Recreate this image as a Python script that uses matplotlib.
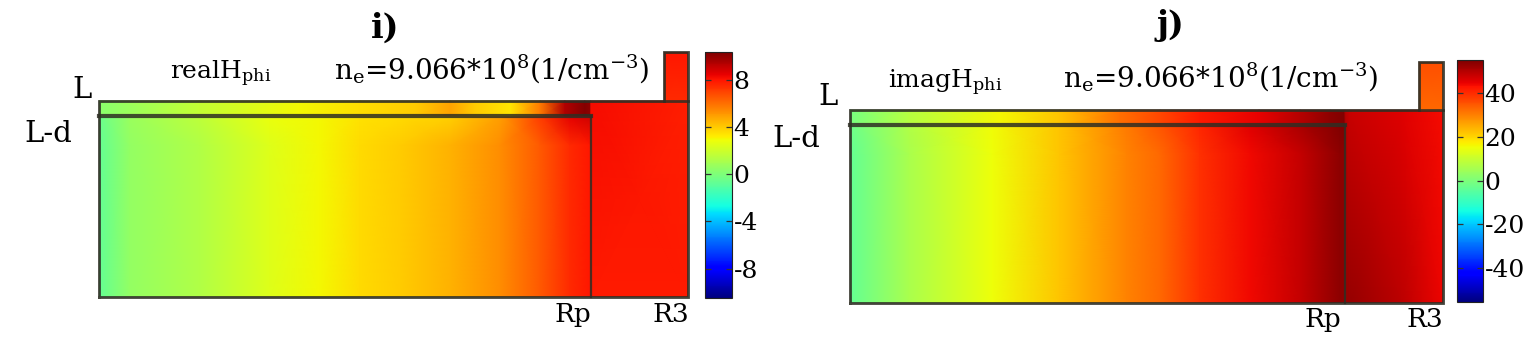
import numpy as np
import matplotlib
matplotlib.use("Agg")
import matplotlib.pyplot as plt
from matplotlib.colors import Normalize
from matplotlib.cm import ScalarMappable

plt.rcParams["font.family"] = ["DejaVu Serif"]
plt.rcParams["mathtext.fontset"] = "dejavuserif"
plt.rcParams["axes.unicode_minus"] = False

# ---------------- geometry (normalised r / z of the domain) ----------------
R3 = 1.0
R_P = 0.835          # Rp
R_PROT = 0.96        # left edge of the small top-right protrusion
Z_LD = 0.739         # L-d
Z_L = 0.80           # L
Z_TOP = 1.0
Z_MID = 0.62

# ---------------- panel i : real H_phi ----------------
i_main_r = [0, 0.053, 0.171, 0.29, 0.375, 0.443, 0.511, 0.596, 0.681, 0.749, 0.80, 0.835]
i_main_low = [-0.7, 0.6, 1.3, 2.4, 3.0, 3.7, 4.0, 4.55, 5.4, 6.5, 7.6, 8.0]
i_main_high = [-0.5, 0.7, 1.6, 2.8, 3.0, 3.5, 3.7, 3.9, 5.0, 7.2, 8.6, 9.0]
i_layer_r = [0, 0.171, 0.341, 0.443, 0.537, 0.596, 0.638, 0.698, 0.749, 0.791, 0.825, 0.835]
i_layer = [0.3, 1.8, 3.0, 3.6, 4.0, 4.9, 4.0, 3.4, 5.8, 9.5, 10.3, 10.0]
i_right_r = [0.835, 1.0]
i_right_low = [7.9, 7.9]
i_right_high = [8.2, 7.8]
i_prot = [7.6, 8.0]
i_range = (-10.5, 10.4)
i_ticks = [-8, -4, 0, 4, 8]

# ---------------- panel j : imag H_phi ----------------
j_main_r = [0, 0.10, 0.24, 0.354, 0.467, 0.523, 0.59, 0.675, 0.76, 0.826, 0.835]
j_main_low = [-3.5, 6.2, 15.4, 22.0, 30.0, 33.0, 39.3, 44.2, 48.6, 54.0, 54.0]
j_main_high = [-2.0, 7.0, 15.5, 22.0, 31.0, 35.0, 41.0, 46.0, 51.0, 55.0, 55.0]
j_layer_r = [0, 0.10, 0.253, 0.354, 0.455, 0.523, 0.59, 0.69, 0.759, 0.81, 0.835]
j_layer = [-1.0, 8.0, 16.0, 22.0, 32.0, 37.0, 42.0, 45.0, 50.0, 54.0, 55.0]
j_right_r = [0.835, 0.843, 0.93, 1.0]
j_right_low = [53.0, 53.0, 49.3, 44.8]
j_right_high = [50.0, 48.0, 46.0, 44.0]
j_prot = [33.0, 36.0]
j_range = (-55.6, 55.3)
j_ticks = [-40, -20, 0, 20, 40]

CMAP = plt.get_cmap("jet")
EDGE = "#2e2e24"

W, H = 1538, 355
fig = plt.figure(figsize=(W / 100, H / 100), dpi=100)


def rect(x0, y0, x1, y1):
    return [x0 / W, 1 - y1 / H, (x1 - x0) / W, (y1 - y0) / H]


def block(ax, r, z, rows, norm):
    X, Z = np.meshgrid(np.asarray(r, float), np.asarray(z, float))
    ax.pcolormesh(X, Z, np.asarray(rows, float), shading="gouraud",
                  cmap=CMAP, norm=norm)


def panel(box, cbox, d, vrange, ticks):
    ax = fig.add_axes(rect(*box))
    ax.set_xlim(0, R3)
    ax.set_ylim(0, Z_TOP)
    ax.axis("off")
    norm = Normalize(*vrange)
    block(ax, d["main_r"], [0, Z_MID, Z_LD],
          [d["main_low"], d["main_low"], d["main_high"]], norm)
    block(ax, d["layer_r"], [Z_LD, Z_L], [d["layer"], d["layer"]], norm)
    block(ax, d["right_r"], [0, Z_L], [d["right_low"], d["right_high"]], norm)
    block(ax, [R_PROT, R3], [Z_L, Z_TOP],
          [[d["prot"][0]] * 2, [d["prot"][1]] * 2], norm)
    # outlines
    ox = [0, R3, R3, R_PROT, R_PROT, 0, 0]
    oy = [0, 0, Z_TOP, Z_TOP, Z_L, Z_L, 0]
    ax.plot(ox, oy, color=EDGE, lw=2.0, alpha=0.9, clip_on=False,
            solid_joinstyle="miter")
    ax.plot([0, R_P], [Z_LD, Z_LD], color=EDGE, lw=3.0, alpha=0.85, clip_on=False)
    ax.plot([R_P, R_P], [0, Z_LD], color=EDGE, lw=1.6, alpha=0.85, clip_on=False)
    ax.plot([R_PROT, R3], [Z_L, Z_L], color=EDGE, lw=2.0, alpha=0.85, clip_on=False)

    cax = fig.add_axes(rect(*cbox))
    cb = fig.colorbar(ScalarMappable(norm=norm, cmap=CMAP), cax=cax, ticks=ticks)
    cb.outline.set_linewidth(0.8)
    cb.outline.set_edgecolor("#222222")
    cax.tick_params(direction="in", length=4, width=0.9, left=True, right=True,
                    labelsize=18, pad=1, color="#333333")
    cb.set_ticklabels([str(t) for t in ticks])
    return ax


panel((99, 52, 688, 297), (705, 52, 732, 298),
      dict(main_r=i_main_r, main_low=i_main_low, main_high=i_main_high,
           layer_r=i_layer_r, layer=i_layer, right_r=i_right_r,
           right_low=i_right_low, right_high=i_right_high, prot=i_prot),
      i_range, i_ticks)
panel((850, 62, 1443, 303), (1457, 60, 1483, 302),
      dict(main_r=j_main_r, main_low=j_main_low, main_high=j_main_high,
           layer_r=j_layer_r, layer=j_layer, right_r=j_right_r,
           right_low=j_right_low, right_high=j_right_high, prot=j_prot),
      j_range, j_ticks)


def txt(x, y, s, size, ha="left", va="baseline", weight="normal"):
    fig.text(x / W, 1 - y / H, s, fontsize=size, ha=ha, va=va, color="black",
             fontweight=weight)


NE = r"n$_{\mathrm{e}}$=9.066*10$^{8}$(1/cm$^{-3}$)"

# panel i
txt(385, 28, "i)", 24, ha="center", va="center", weight="bold")
txt(170, 79, r"realH$_{\mathrm{phi}}$", 18)
txt(334, 79, NE, 20)
txt(72, 98, "L", 21)
txt(24, 142, "L-d", 21)
txt(555, 322, "Rp", 19)
txt(653, 322, "R3", 19)

# panel j
txt(1170, 26, "j)", 24, ha="center", va="center", weight="bold")
txt(888, 88, r"imagH$_{\mathrm{phi}}$", 18)
txt(1063, 88, NE, 20)
txt(818, 105, "L", 21)
txt(772, 147, "L-d", 21)
txt(1305, 327, "Rp", 19)
txt(1407, 327, "R3", 19)

fig.savefig("out.png", dpi=100)
